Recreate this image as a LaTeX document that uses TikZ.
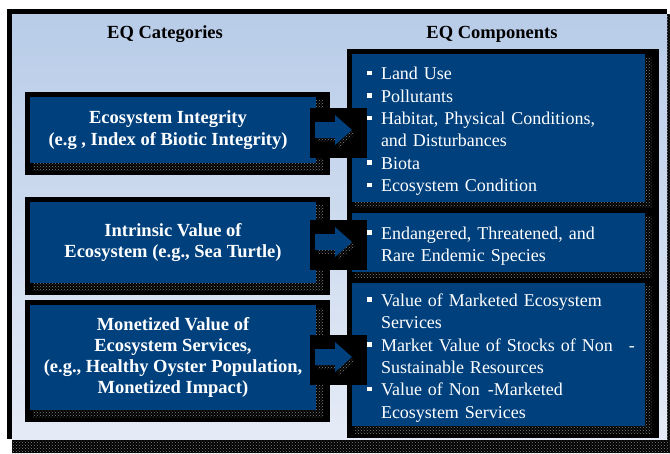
\documentclass[tikz,border=0pt]{standalone}
\usepackage{fontspec}
\setmainfont{Liberation Serif}
\usetikzlibrary{positioning,patterns}
\definecolor{eqblue}{RGB}{0,65,125}
\definecolor{paneltop}{RGB}{184,204,232}
\definecolor{panelbot}{RGB}{229,235,246}
\definecolor{dotgray}{RGB}{130,130,130}
% blue box with black backing and dotted shadow: name, x1, y1, x2, y2
\newcommand{\eqbox}[5]{%
  \fill[black] (#2-5,#3-5) rectangle (#4+14,#5+12);
  \fill[pattern=crosshatch dots, pattern color=dotgray] (#2+3,#3+3) rectangle (#4+7,#5+7);
  \node[boxfill, minimum width={(#4-#2)*1pt}, minimum height={(#5-#3)*1pt}] (#1) at ({(#2+#4)/2},{(#3+#5)/2}) {};}
\newcommand{\blockarrow}{(-23.5,-11) -- (-3.5,-11) -- (-3.5,-18) -- (13.5,-3) -- (-3.5,12) -- (-3.5,5) -- (-23.5,5) -- cycle}
\newcommand{\sqitem}{\par\hangindent=14pt\hangafter=1\noindent\makebox[14pt][l]{\rule[4.5pt]{4.5pt}{4.5pt}}}

\begin{document}
\begin{tikzpicture}[x=1pt,y=-1pt,
  boxfill/.style={fill=eqblue, inner sep=0pt},
  arrbox/.style={fill=black, minimum width=57pt, minimum height=50pt, inner sep=0pt},
  head/.style={font=\bfseries\fontsize{18.5}{22}\selectfont},
  cattext/.style={text=white, align=center, font=\bfseries\fontsize{18.5}{21.3}\selectfont},
  comptext/.style={text=white, text width=280pt, inner sep=0pt, anchor=west, font=\fontsize{18}{22.4}\selectfont}]
\useasboundingbox (0,0) rectangle (670,453);

% panel with shadow
\fill[black] (12,14) rectangle (670,453);
\fill[pattern=crosshatch dots, pattern color=dotgray] (12,14) rectangle (670,453);
\fill[black] (7,9) rectangle (667,439);
\shade[top color=paneltop, bottom color=panelbot] (12,14) rectangle (667,439);

\node[head] (hcat) at (165,34) {EQ Categories};
\node[head] (hcomp) at (492,34) {EQ Components};

% categories
\eqbox{cat1}{30}{97}{316}{163}
\eqbox{cat2}{30}{202}{316}{283}
\eqbox{cat3}{30}{305}{316}{410}
\node[cattext] (tcat1) at ([xshift=-5pt]cat1.center) {Ecosystem Integrity\\(e.g , Index of Biotic Integrity)};
\node[cattext] (tcat2) at (cat2) {Intrinsic Value of\\Ecosystem (e.g., Sea Turtle)};
\node[cattext] (tcat3) at (cat3) {Monetized Value of\\Ecosystem Services,\\(e.g., Healthy Oyster Population,\\Monetized Impact)};

% components
\eqbox{comp1}{352}{54}{645}{202}
\eqbox{comp2}{352}{213}{645}{272}
\eqbox{comp3}{352}{283}{645}{426}
\node[comptext] (tcomp1) at ([xshift=15pt,yshift=1.5pt]comp1.west) {%
  \sqitem Land Use
  \sqitem Pollutants
  \sqitem Habitat, Physical Conditions,\newline and Disturbances
  \sqitem Biota
  \sqitem Ecosystem Condition\par};
\node[comptext] (tcomp2) at ([xshift=15pt,yshift=1.5pt]comp2.west) {%
  \sqitem Endangered, Threatened, and\newline Rare Endemic Species\par};
\node[comptext] (tcomp3) at ([xshift=15pt,yshift=1.5pt]comp3.west) {%
  \sqitem Value of Marketed Ecosystem\newline Services
  \sqitem Market Value of Stocks of Non\hspace{16pt}-\newline Sustainable Resources
  \sqitem Value of Non\hspace{8pt}-Marketed\newline Ecosystem Services\par};

% arrows between the columns
\foreach \n/\y in {1/133,2/245,3/360} {
  \node[arrbox] (arr\n) at (338.5,\y) {};
  \begin{scope}[shift={(arr\n.center)}]
    \fill[pattern=crosshatch dots, pattern color=dotgray, xshift=3pt, yshift=-4pt] \blockarrow;
    \fill[eqblue] \blockarrow;
  \end{scope}
}
\end{tikzpicture}
\end{document}
